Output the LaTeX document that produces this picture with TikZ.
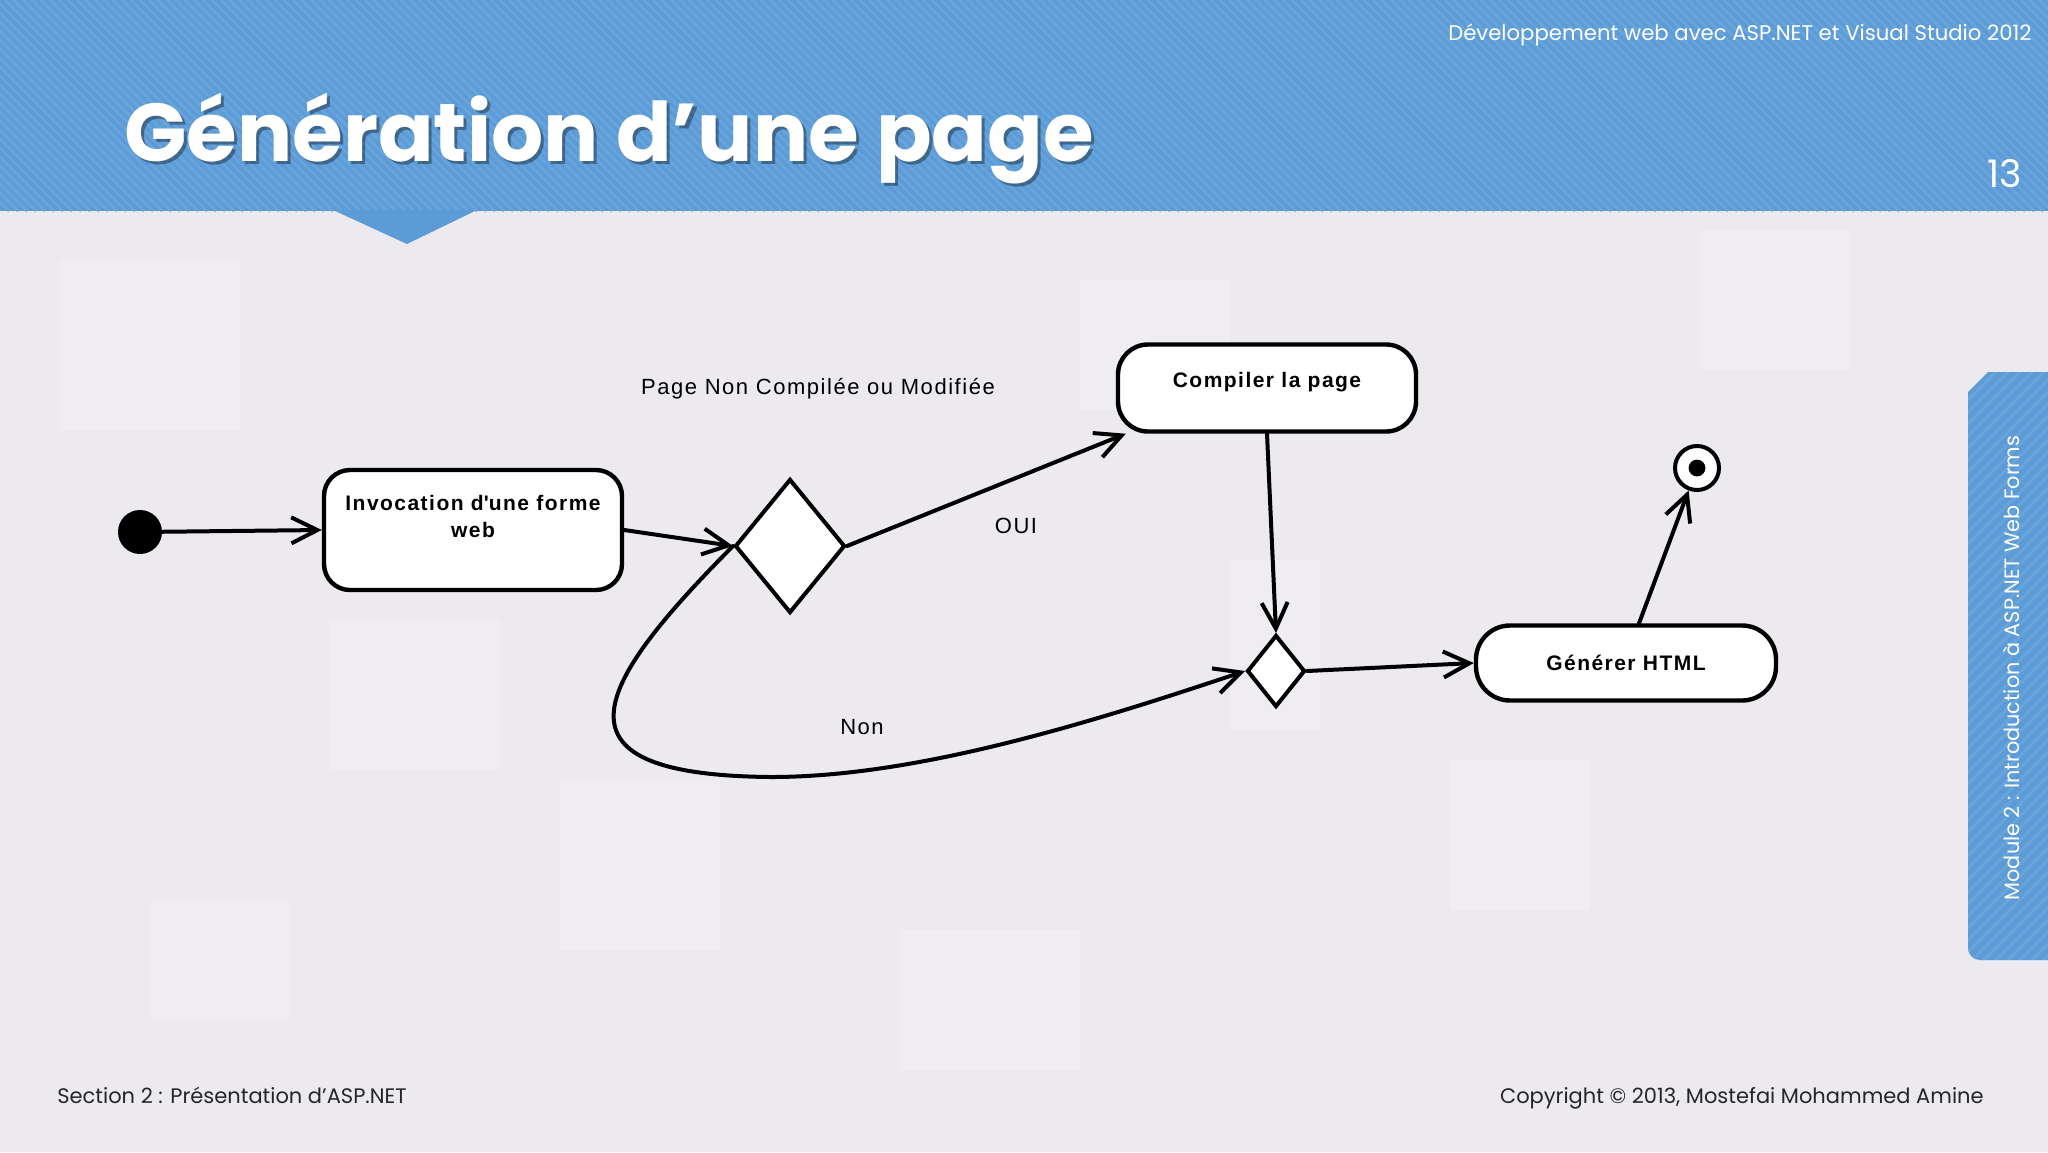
\documentclass[tikz,border=0pt]{standalone}
\usepackage{fontspec}
\setmainfont{Liberation Sans}
\newfontfamily\gothic{Poppins}
\newfontfamily\spaced[LetterSpace=7]{Liberation Sans}
\usetikzlibrary{arrows.meta,shapes.geometric}
\definecolor{hdr}{RGB}{92,155,213}
\definecolor{hdrs}{RGB}{104,164,220}
\definecolor{bg}{RGB}{236,234,238}
\definecolor{bgl}{RGB}{239,237,241}
\begin{document}
\begin{tikzpicture}[x=0.5pt,y=-0.5pt,
  box/.style={draw=black, line width=2.2pt, fill=white, rounded corners=13pt, inner sep=0pt,
    font=\spaced\bfseries\fontsize{10.5}{13.5}\selectfont, align=center},
  dia/.style={draw=black, diamond, fill=white, line width=2pt, inner sep=0pt},
  arr/.style={line width=2pt, line cap=round, -{Straight Barb[length=13pt,width=13pt]}},
  lbl/.style={font=\spaced\fontsize{11}{13}\selectfont, inner sep=0pt},
  foot/.style={font=\gothic\fontsize{10.5}{12}\selectfont, inner sep=0pt, text=black!85}]
\useasboundingbox (0,0) rectangle (2048,1152);
% background
\fill[bg] (0,0) rectangle (2048,1152);
\foreach \xa/\ya/\wa/\ha in {60/260/180/170, 330/620/170/150, 560/780/160/170, 1080/280/150/130, 1450/760/140/150, 1230/560/90/170, 900/930/180/140, 1700/230/150/140, 150/900/140/120}
  \fill[bgl] (\xa,\ya) rectangle ++(\wa,\ha);
% header
\fill[hdr] (0,0) rectangle (2048,211);
\begin{scope}
  \clip (0,0) rectangle (2048,211);
  \foreach \i in {-220,-211,...,2048}
    \draw[hdrs, line width=1.3pt] (\i,0) -- ++(211,211);
\end{scope}
\fill[hdr] (333,210) -- (477,210) -- (407,244) -- cycle;
\node[anchor=base west, text=black, opacity=0.35, font=\gothic\bfseries\fontsize{41}{48}\selectfont, inner sep=0pt] (titles) at (127,164) {Génération d’une page};
\node[anchor=base west, text=white, font=\gothic\bfseries\fontsize{41}{48}\selectfont, inner sep=0pt] (title) at (124,161) {Génération d’une page};
\node[anchor=base east, text=white, font=\gothic\fontsize{10.6}{12}\selectfont, inner sep=0pt] (course) at (2032,40) {Développement web avec ASP.NET et Visual Studio 2012};
\node[anchor=base east, text=white, font=\gothic\fontsize{19}{22}\selectfont, inner sep=0pt] (pnum) at (2022,187) {13};
% right tab
\fill[hdr] (2048,372) -- (1988,372) -- (1968,392) -- (1968,948) arc[start angle=180,end angle=270,radius=6pt] -- (2048,960) -- cycle;
\begin{scope}
  \clip (2048,372) -- (1988,372) -- (1968,392) -- (1968,948) arc[start angle=180,end angle=270,radius=6pt] -- (2048,960) -- cycle;
  \foreach \i in {360,372,...,1060}
    \draw[hdrs, line width=1.6pt] (1960,\i) -- ++(90,-90);
\end{scope}
\node[rotate=90, text=white, font=\gothic\fontsize{10.4}{12}\selectfont, inner sep=0pt] (module) at (2011,668) {Module 2 : Introduction à ASP.NET Web Forms};
% footer
\node[foot, anchor=base west] (sect) at (57,1103) {Section 2 : Présentation d’ASP.NET};
\node[foot, anchor=base east] (copy) at (1984,1103) {Copyright © 2013, Mostefai Mohammed Amine};
% diagram nodes
\node[circle, fill=black, minimum size=22pt, inner sep=0pt] (ini) at (140,532) {};
\node[box, minimum width=149pt, minimum height=60pt] (inv) at (473,530) {Invocation d\textquotesingle une forme\\web\\\mbox{}};
\node[dia, minimum width=55pt, minimum height=67pt] (d1) at (790,546) {};
\node[box, minimum width=149pt, minimum height=43.5pt, rounded corners=15pt, text height=8pt, text depth=9pt] (comp) at (1267,388) {Compiler la page};
\node[dia, minimum width=29pt, minimum height=36pt] (d2) at (1276,671) {};
\node[box, minimum width=150pt, minimum height=37.5pt, rounded corners=17pt] (gen) at (1626,663) {Générer HTML};
\node[circle, draw=black, line width=2pt, fill=white, minimum size=22pt, inner sep=0pt] (fin) at (1697,468) {};
\fill[black] (fin.center) circle (4.2pt);
% labels
\node[lbl] (lpage) at (818,389) {Page Non Compilée ou Modifiée};
\node[lbl] (loui) at (1016,526) {OUI};
\node[lbl] (lnon) at (862,727) {Non};
% connectors
\draw[arr] (ini) -- (inv.west);
\draw[arr] (inv.east) -- (d1.west);
\draw[arr] (d1.east) -- ([xshift=5pt]comp.south west);
\draw[arr] (comp.south) -- (d2.north);
\coordinate (nb) at (771,777);
\draw[arr] (d1.west) .. controls (590,690) and (545,775) .. (nb) .. controls (914,777) and (1084,725) .. (d2.west);
\draw[arr] (d2.east) -- (gen.west);
\draw[arr] ([xshift=6.5pt]gen.north) -- (fin);
\end{tikzpicture}
\end{document}
